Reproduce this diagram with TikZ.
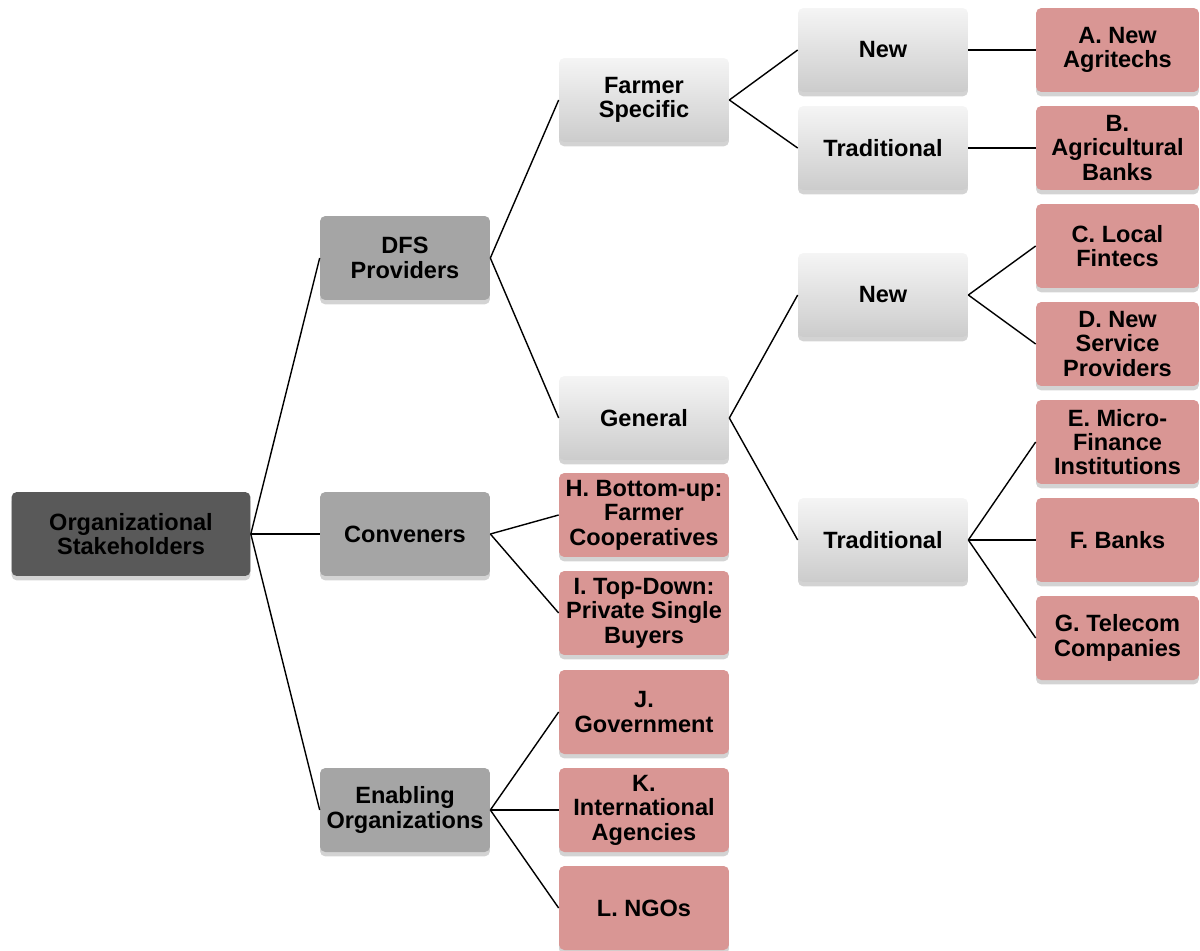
\documentclass[tikz,border=0pt]{standalone}
\usepackage{fontspec}
\setmainfont{Liberation Sans}
\usepackage{tikz}
\usetikzlibrary{shadows}
\usepackage{xcolor}

\definecolor{rootgray}{HTML}{595959}
\definecolor{midgray}{HTML}{A5A5A5}
\definecolor{leafrose}{HTML}{D99694}

\tikzset{
  box/.style={rectangle, rounded corners=3pt, align=center,
    minimum width=3.4cm, minimum height=1.68cm, inner sep=1pt,
    font=\fontsize{13.4}{13.9}\selectfont\bfseries,
    drop shadow={shadow xshift=0pt, shadow yshift=-2.5pt, opacity=0.35}},
  rootbox/.style={box, fill=rootgray, minimum width=4.78cm},
  groupbox/.style={box, fill=midgray},
  kindbox/.style={box, top color=white!96!black, bottom color=black!20},
  leafbox/.style={box, fill=leafrose, minimum width=3.26cm},
  link/.style={draw=black, line width=0.8pt}
}

\begin{document}
\begin{tikzpicture}[x=0.02cm, y=-0.02cm]
    \useasboundingbox (0,0) rectangle (1200,950);

    \node[rootbox] (org) at (131,534) {Organizational\\Stakeholders};

    \node[groupbox] (dfs) at (405,258) {DFS\\Providers};
    \node[groupbox] (conv) at (405,534) {Conveners};
    \node[groupbox] (enab) at (405,810) {Enabling\\Organizations};

    \node[kindbox] (farmer) at (644,100) {Farmer\\Specific};
    \node[kindbox] (general) at (644,418) {General};

    \node[kindbox] (fsnew) at (883,50) {New};
    \node[kindbox] (fstrad) at (883,148) {Traditional};
    \node[kindbox] (gennew) at (883,295) {New};
    \node[kindbox] (gentrad) at (883,540) {Traditional};

    \node[leafbox] (A) at (1117.5,50) {A. New\\Agritechs};
    \node[leafbox] (B) at (1117.5,148) {B.\\Agricultural\\Banks};
    \node[leafbox] (C) at (1117.5,246) {C. Local\\Fintecs};
    \node[leafbox] (D) at (1117.5,344) {D. New\\Service\\Providers};
    \node[leafbox] (E) at (1117.5,442) {E. Micro-\\Finance\\Institutions};
    \node[leafbox] (F) at (1117.5,540) {F. Banks};
    \node[leafbox] (G) at (1117.5,638) {G. Telecom\\Companies};

    \node[leafbox, minimum width=3.4cm] (H) at (644,515) {H. Bottom-up:\\Farmer\\Cooperatives};
    \node[leafbox, minimum width=3.4cm] (I) at (644,613) {I. Top-Down:\\Private Single\\Buyers};
    \node[leafbox, minimum width=3.4cm] (J) at (644,712) {J.\\Government};
    \node[leafbox, minimum width=3.4cm] (K) at (644,810) {K.\\International\\Agencies};
    \node[leafbox, minimum width=3.4cm] (L) at (644,908) {L. NGOs};

    \draw[link] (org.east) -- (dfs.west);
    \draw[link] (org.east) -- (conv.west);
    \draw[link] (org.east) -- (enab.west);

    \draw[link] (dfs.east) -- (farmer.west);
    \draw[link] (dfs.east) -- (general.west);
    \draw[link] (conv.east) -- (H.west);
    \draw[link] (conv.east) -- (I.west);
    \draw[link] (enab.east) -- (J.west);
    \draw[link] (enab.east) -- (K.west);
    \draw[link] (enab.east) -- (L.west);

    \draw[link] (farmer.east) -- (fsnew.west);
    \draw[link] (farmer.east) -- (fstrad.west);
    \draw[link] (general.east) -- (gennew.west);
    \draw[link] (general.east) -- (gentrad.west);

    \draw[link] (fsnew.east) -- (A.west);
    \draw[link] (fstrad.east) -- (B.west);
    \draw[link] (gennew.east) -- (C.west);
    \draw[link] (gennew.east) -- (D.west);
    \draw[link] (gentrad.east) -- (E.west);
    \draw[link] (gentrad.east) -- (F.west);
    \draw[link] (gentrad.east) -- (G.west);

\end{tikzpicture}
\end{document}
